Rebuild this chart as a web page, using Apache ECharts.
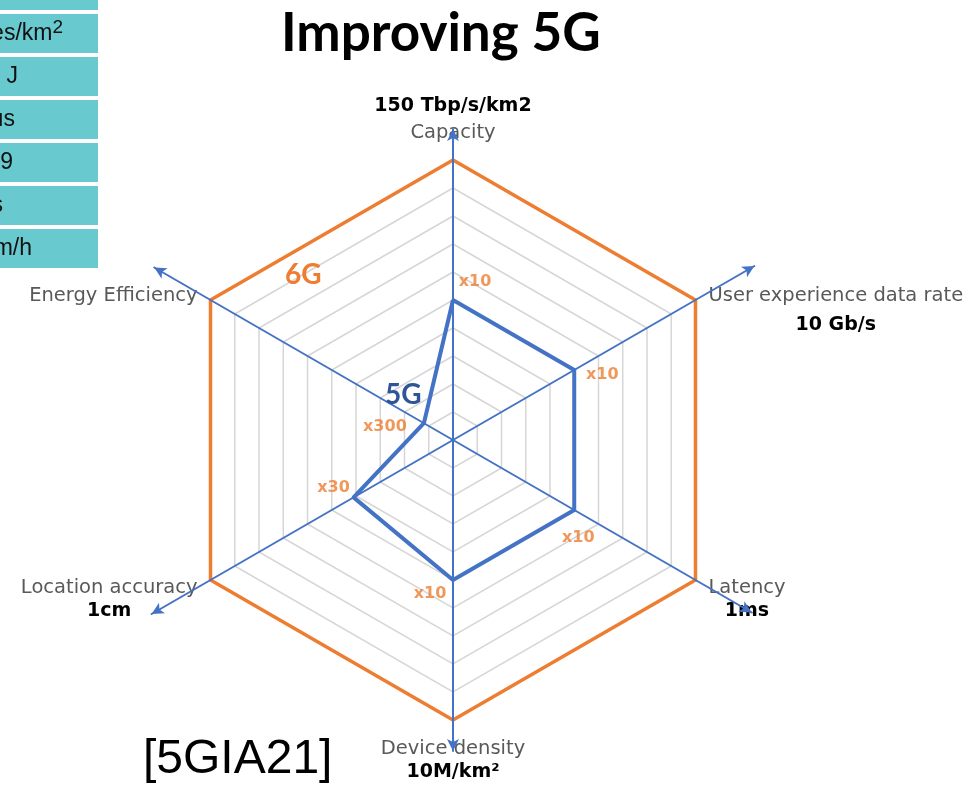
<!DOCTYPE html>
<html>
<head>
<meta charset="utf-8">
<script src="https://cdn.jsdelivr.net/npm/echarts@6/dist/echarts.min.js"></script>
<style>
  html, body { margin: 0; padding: 0; background: #fff; }
  #chart { width: 975px; height: 785px; }
</style>
</head>
<body>
<div id="chart"></div>
<script>
// Radar axes, listed counter-clockwise starting from the top
const indicators = ['Capacity', 'Energy Efficiency', 'Location accuracy', 'Device density', 'Latency', 'User experience data rate'];
// 6G target printed next to each axis name
const targets6G = ['150 Tbp/s/km2', '', '1cm', '10M/km²', '1ms', '10 Gb/s'];
const scaleMax = 10;
const values6G = [10, 10, 10, 10, 10, 10];
const values5G = [5, 1.2, 4.1, 5, 5, 5];
// improvement factor from 5G to 6G on each axis
const gains = ['x10', 'x300', 'x30', 'x10', 'x10', 'x10'];
// right-hand ends of the KPI table cells at the top-left corner
const tableText = ['cm', 'devices/km', 'b / J', 'μs', '9', 's', 'km/h'];

// ---- layout / style ----
const CX = 453, CY = 440, R = 280;
const BLUE = '#4472C4', ORANGE = '#ED7D31', GRID = '#d6d6d6';
const LABEL_FONT = '"DejaVu Sans", sans-serif';
const gainOffsets = [[22, -18], [-39, 4], [-20, -10], [-23, 14], [4, 28], [28, 5]];
const tableRight = [28, 52, 18, 15, 13, 3, 32];
const TABLE_FONT = '23px "Liberation Sans", Arial, sans-serif';

function axisNameText(name) {
  const i = indicators.indexOf(name);
  const t = targets6G[i];
  switch (i) {
    case 0: return '{val|' + t + '}\n{name|' + name + '}';
    case 1: return '{spE| }\n{name|' + name + '}';
    case 3: return '{nameBot|' + name + '}\n{valBot|' + t + '}';
    case 5: return '{spUR| }\n{name|' + name + '}\n{valUR|' + t + '}';
    default: return '{spLow| }\n{name|' + name + '}\n{valLow|' + t + '}';
  }
}

function boldVal(lineHeight) {
  return { fontFamily: LABEL_FONT, fontSize: 19, fontWeight: 'bold', color: '#000', align: 'center', lineHeight: lineHeight };
}
function nameStyle(lineHeight) {
  return { fontFamily: LABEL_FONT, fontSize: 19.5, color: '#595959', lineHeight: lineHeight, align: 'center' };
}

function arrowAxes(startAngle, radius) {
  return {
    center: [CX, CY], radius: radius, startAngle: startAngle, z: 3,
    indicator: [{ name: '', min: 0, max: 1 }, { name: '', min: 0, max: 1 }],
    axisName: { show: false },
    axisLine: { show: true, symbol: ['none', 'arrow'], symbolSize: [9, 12], lineStyle: { color: BLUE, width: 2 } },
    splitLine: { show: false }, splitArea: { show: false },
    axisTick: { show: false }, axisLabel: { show: false }
  };
}

const chart = echarts.init(document.getElementById('chart'), null, { renderer: 'canvas' });

const tableGraphics = [];
tableText.forEach(function (txt, i) {
  const top = i === 0 ? -29 : 14 + 43 * (i - 1);
  tableGraphics.push({
    type: 'rect', shape: { x: -2, y: top, width: 100, height: 39 },
    style: { fill: '#68C9CF' }, silent: true
  });
  const isUnit = i === 1;
  tableGraphics.push({
    type: 'text', silent: true,
    style: {
      text: isUnit ? '{a|' + txt + '}{s|2}' : txt,
      x: isUnit ? 63 : tableRight[i],
      y: i === 0 ? -6 : top + 20,
      align: 'right', verticalAlign: 'middle',
      font: TABLE_FONT, fill: '#111',
      rich: isUnit ? {
        a: { font: TABLE_FONT, fill: '#111' },
        s: { font: '19px "Liberation Sans", Arial, sans-serif', fill: '#111', padding: [0, 0, 12, 0] }
      } : undefined
    }
  });
});

chart.setOption({
  animation: false,
  backgroundColor: '#fff',
  title: [
    { text: 'Improving 5G', left: 281, top: 7, padding: 0,
      textStyle: { fontFamily: 'Lato', fontWeight: 'bold', fontSize: 53, color: '#000' } },
    { text: '6G', left: 285, top: 261, padding: 0,
      textStyle: { fontFamily: 'Lato', fontWeight: 'bold', fontSize: 28, color: ORANGE } },
    { text: '5G', left: 385, top: 381, padding: 0,
      textStyle: { fontFamily: 'Lato', fontWeight: 'bold', fontSize: 28, color: '#2F5597' } },
    { text: '[5GIA21]', left: 143, top: 736, padding: 0,
      textStyle: { fontFamily: 'Liberation Sans', fontWeight: 'normal', fontSize: 48, color: '#000' } }
  ],
  graphic: tableGraphics,
  radar: [
    {
      center: [CX, CY], radius: R, startAngle: 90, splitNumber: 10, shape: 'polygon',
      indicator: indicators.map(function (n) { return { name: n, min: 0, max: scaleMax }; }),
      axisNameGap: 15,
      axisName: {
        formatter: axisNameText,
        rich: {
          name: nameStyle(24),
          nameBot: nameStyle(28),
          val: boldVal(29),
          valUR: boldVal(34),
          valLow: boldVal(24),
          valBot: boldVal(18),
          spUR: { fontSize: 12, lineHeight: 41 },
          spLow: { fontSize: 12, lineHeight: 24 },
          spE: { fontSize: 6, lineHeight: 7 }
        }
      },
      axisLine: { show: false },
      splitLine: { show: true, lineStyle: { color: GRID, width: 1.5 } },
      splitArea: { show: false },
      axisTick: { show: false }, axisLabel: { show: false }
    },
    arrowAxes(90, 311),   // Capacity / Device density
    arrowAxes(30, 348),   // User experience data rate / Location accuracy
    arrowAxes(150, 345)   // Energy Efficiency / Latency
  ],
  polar: { center: [CX, CY], radius: R },
  angleAxis: { type: 'value', min: 0, max: 360, startAngle: 90, clockwise: false, show: false,
    axisLine: { show: false }, splitLine: { show: false }, axisLabel: { show: false }, axisTick: { show: false } },
  radiusAxis: { type: 'value', min: 0, max: scaleMax, show: false,
    axisLine: { show: false }, splitLine: { show: false }, axisLabel: { show: false }, axisTick: { show: false } },
  series: [
    {
      type: 'radar', radarIndex: 0, symbol: 'none', z: 2,
      data: [
        { name: '6G', value: values6G, lineStyle: { color: ORANGE, width: 3.5 }, itemStyle: { color: ORANGE } },
        { name: '5G', value: values5G, lineStyle: { color: BLUE, width: 4 }, itemStyle: { color: BLUE } }
      ]
    },
    {
      type: 'scatter', coordinateSystem: 'polar', polarIndex: 0, z: 4,
      symbolSize: 1, itemStyle: { color: 'rgba(0,0,0,0)' },
      data: values5G.map(function (v, i) {
        return {
          value: [v, i * 360 / indicators.length],
          label: {
            show: true, position: 'inside', offset: gainOffsets[i],
            formatter: gains[i],
            fontFamily: LABEL_FONT, fontSize: 16, fontWeight: 'bold', color: ORANGE
          }
        };
      })
    }
  ]
});
</script>
</body>
</html>
